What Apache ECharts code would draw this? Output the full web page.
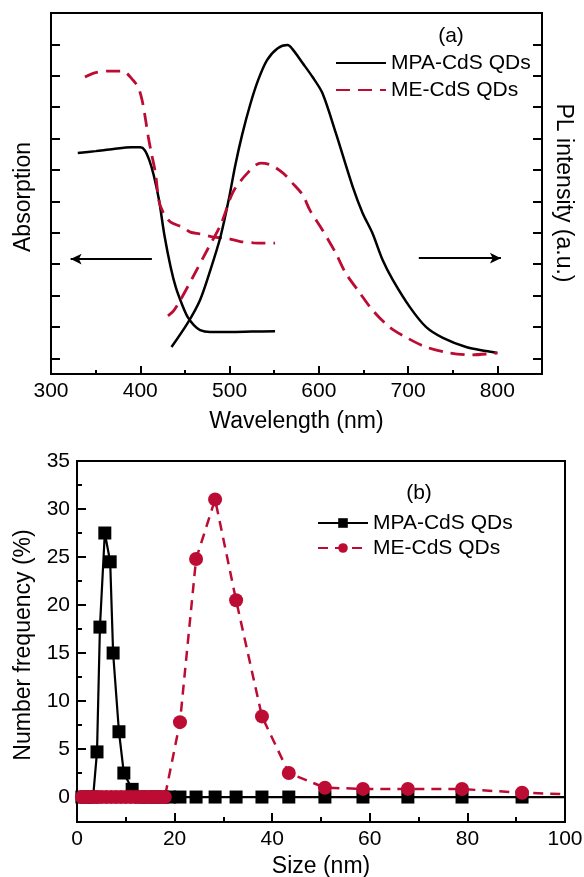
<!DOCTYPE html>
<html>
<head>
<meta charset="utf-8">
<script src="https://cdn.jsdelivr.net/npm/echarts@6/dist/echarts.min.js"></script>
<style>html,body{margin:0;padding:0;background:#fff}#c{width:584px;height:877px}</style>
</head>
<body>
<div id="c"></div>
<script>
// ---------- Panel (a): absorption & PL spectra (arbitrary units) ----------
const wavelengthLabels = [300, 400, 500, 600, 700, 800];
const wavelengthMajorTicks = [400, 500, 600, 700, 800];
const wavelengthMinorTicks = [350, 450, 550, 650, 750];
const intensityTicks = [0, 1, 2, 3, 4, 5, 6, 7, 8, 9, 10];

const absMPA = [[330,6.54],[350,6.60],[370,6.67],[390,6.72],[400,6.72],[405,6.63],[410,6.32],[415,5.84],[421,5.04],[427,3.93],[434,2.91],[440,2.24],[447,1.70],[453,1.32],[460,1.06],[467,0.90],[478,0.84],[500,0.84],[525,0.85],[551,0.86]];
const absME = [[338,8.96],[350,9.10],[366,9.15],[380,9.15],[392,8.86],[398,8.61],[402,8.23],[405.5,7.68],[409,7.05],[412,6.60],[417,5.90],[421,5.0],[426,4.63],[434,4.34],[447,4.18],[456,4.02],[467,3.96],[482,3.86],[497,3.82],[512,3.72],[527,3.68],[551,3.67]];
const plMPA = [[435,0.36],[453,1.12],[467,1.86],[478.5,2.81],[490,3.89],[499,5.04],[506.5,6.16],[514,7.11],[523,8.07],[532,8.86],[542,9.5],[554,9.88],[565,9.98],[570.5,9.85],[582,9.40],[593,8.96],[604,8.45],[619,7.18],[638,5.46],[649,4.63],[660,3.99],[671.5,3.13],[683,2.49],[702,1.63],[720,1.00],[739,0.65],[765,0.36],[787,0.23],[800,0.17]];
const plME = [[431,1.35],[437,1.5],[445,1.86],[459,2.59],[475,3.45],[490,4.25],[504,5.30],[520,5.90],[535,6.22],[546,6.16],[560,5.90],[570.5,5.58],[582,5.20],[590,4.72],[604,4.09],[619,3.35],[630,2.72],[646,2.08],[660,1.54],[679,1.00],[697,0.68],[720,0.36],[747,0.17],[772,0.11],[800,0.17]];
const leftArrow = [[413, 3.16], [322, 3.16]];
const rightArrow = [[712, 3.19], [804, 3.19]];

// ---------- Panel (b): size distributions ----------
const sizeLabels = [0, 20, 40, 60, 80, 100];
const sizeMajorTicks = [20, 40, 60, 80];
const sizeMinorTicks = [10, 30, 50, 70, 90];
const freqLabels = [0, 5, 10, 15, 20, 25, 30, 35];
const freqMinorTicks = [2.5, 7.5, 12.5, 17.5, 22.5, 27.5, 32.5];

const sizeMPA = [1, 2, 3.3, 4.1, 4.7, 5.7, 6.8, 7.4, 8.6, 9.6, 11.3, 13, 14.5, 16, 17.5, 19, 21.1, 24.4, 28.3, 32.6, 37.9, 43.4, 50.8, 58.6, 67.8, 78.9, 91.2, 100];
const freqMPA = [0, 0, 0, 4.7, 17.7, 27.5, 24.5, 15.0, 6.8, 2.5, 0.8, 0, 0, 0, 0, 0, 0, 0, 0, 0, 0, 0, 0, 0, 0, 0, 0, 0];
const sizeME = [1, 2, 3, 4, 5, 6, 7, 8, 9, 10, 11, 12, 13, 14, 15, 16, 17, 18, 21.1, 24.4, 28.3, 32.6, 37.9, 43.4, 50.8, 58.6, 67.8, 78.9, 91.2, 100];
const freqME = [0, 0, 0, 0, 0, 0, 0, 0, 0, 0, 0, 0, 0, 0, 0, 0, 0, 0, 7.8, 24.8, 31.0, 20.5, 8.4, 2.5, 0.97, 0.85, 0.85, 0.83, 0.45, 0.3];

const RED = '#BC0C33';
const FONT = 'Liberation Sans';

function pairs(xs, ys, lastNoSymbol) {
  return xs.map((x, i) => {
    const d = { value: [x, ys[i]] };
    if (lastNoSymbol && i === xs.length - 1) d.symbol = 'none';
    return d;
  });
}

const chart = echarts.init(document.getElementById('c'), null, { renderer: 'canvas' });

const axisLineStyle = { show: true, onZero: false, lineStyle: { color: '#000', width: 2 } };
const noLine = { show: false, onZero: false };
const tickLabel = { color: '#000', fontSize: 21, fontFamily: FONT, margin: 7 };

const option = {
  animation: false,
  backgroundColor: '#fff',
  textStyle: { fontFamily: FONT, color: '#000' },
  grid: [
    { left: 51, top: 13, right: 42, bottom: 503, show: true, borderColor: '#000', borderWidth: 2, outerBoundsMode: 'none', containLabel: false },
    { left: 77, top: 461, right: 19, bottom: 55, show: true, borderColor: '#000', borderWidth: 2, outerBoundsMode: 'none', containLabel: false }
  ],
  xAxis: [
    { type: 'value', gridIndex: 0, min: 300, max: 850, position: 'bottom',
      axisLine: axisLineStyle, splitLine: { show: false },
      axisTick: { inside: true, length: 8, lineStyle: { width: 2, color: '#000' }, customValues: wavelengthMajorTicks },
      axisLabel: Object.assign({ customValues: wavelengthLabels }, tickLabel),
      name: 'Wavelength (nm)', nameLocation: 'middle', nameGap: 36,
      nameTextStyle: { fontSize: 23, fontFamily: FONT, color: '#000' } },
    { type: 'value', gridIndex: 0, min: 300, max: 850, position: 'bottom',
      axisLine: noLine, splitLine: { show: false }, axisLabel: { show: false },
      axisTick: { inside: true, length: 4, lineStyle: { width: 2, color: '#000' }, customValues: wavelengthMinorTicks } },
    { type: 'value', gridIndex: 1, min: 0, max: 100, position: 'bottom',
      axisLine: axisLineStyle, splitLine: { show: false },
      axisTick: { inside: true, length: 9, lineStyle: { width: 2, color: '#000' }, customValues: sizeMajorTicks },
      axisLabel: Object.assign({ customValues: sizeLabels }, tickLabel),
      name: 'Size (nm)', nameLocation: 'middle', nameGap: 33,
      nameTextStyle: { fontSize: 23, fontFamily: FONT, color: '#000' } },
    { type: 'value', gridIndex: 1, min: 0, max: 100, position: 'bottom',
      axisLine: noLine, splitLine: { show: false }, axisLabel: { show: false },
      axisTick: { inside: true, length: 5, lineStyle: { width: 2, color: '#000' }, customValues: sizeMinorTicks } }
  ],
  yAxis: [
    { type: 'value', gridIndex: 0, min: -0.5, max: 11, position: 'left',
      axisLine: axisLineStyle, splitLine: { show: false }, axisLabel: { show: false },
      axisTick: { inside: true, length: 9, lineStyle: { width: 2, color: '#000' }, customValues: intensityTicks } },
    { type: 'value', gridIndex: 0, min: -0.5, max: 11, position: 'right',
      axisLine: axisLineStyle, splitLine: { show: false }, axisLabel: { show: false },
      axisTick: { inside: true, length: 9, lineStyle: { width: 2, color: '#000' }, customValues: intensityTicks } },
    { type: 'value', gridIndex: 1, min: -2.6, max: 35, position: 'left',
      axisLine: axisLineStyle, splitLine: { show: false },
      axisLabel: Object.assign({ customValues: freqLabels }, tickLabel),
      axisTick: { inside: true, length: 9, lineStyle: { width: 2, color: '#000' }, customValues: freqLabels } },
    { type: 'value', gridIndex: 1, min: -2.6, max: 35, position: 'left',
      axisLine: noLine, splitLine: { show: false }, axisLabel: { show: false },
      axisTick: { inside: true, length: 5, lineStyle: { width: 2, color: '#000' }, customValues: freqMinorTicks } }
  ],
  legend: [
    { orient: 'vertical', left: 335, top: 51, padding: 0, itemWidth: 50, itemHeight: 14, itemGap: 3,
      textStyle: { fontSize: 21, fontFamily: FONT, color: '#000', lineHeight: 24 },
      itemStyle: { opacity: 0 },
      data: [
        { name: 'MPA-CdS QDs', itemStyle: { opacity: 0 } },
        { name: 'ME-CdS QDs', itemStyle: { opacity: 0 } }
      ], selectedMode: false },
    { orient: 'vertical', left: 317, top: 511, padding: 0, itemWidth: 50, itemHeight: 12, itemGap: 1,
      textStyle: { fontSize: 21, fontFamily: FONT, color: '#000', lineHeight: 24 },
      data: ['MPA-CdS QDs ', 'ME-CdS QDs '], selectedMode: false }
  ],
  graphic: [
    { type: 'text', x: 451, y: 36, style: { text: '(a)', fontSize: 21, fontFamily: FONT, fill: '#000', align: 'center', verticalAlign: 'middle' } },
    { type: 'text', x: 419, y: 493, style: { text: '(b)', fontSize: 21, fontFamily: FONT, fill: '#000', align: 'center', verticalAlign: 'middle' } },
    { type: 'text', x: 24, y: 197, rotation: Math.PI / 2, style: { text: 'Absorption', fontSize: 23, fontFamily: FONT, fill: '#000', align: 'center', verticalAlign: 'middle' } },
    { type: 'text', x: 563, y: 193, rotation: -Math.PI / 2, style: { text: 'PL intensity (a.u.)', fontSize: 23, fontFamily: FONT, fill: '#000', align: 'center', verticalAlign: 'middle' } },
    { type: 'text', x: 24, y: 645, rotation: Math.PI / 2, style: { text: 'Number frequency (%)', fontSize: 23, fontFamily: FONT, fill: '#000', align: 'center', verticalAlign: 'middle' } }
  ],
  series: [
    { name: 'MPA-CdS QDs', type: 'line', xAxisIndex: 0, yAxisIndex: 0, data: absMPA, symbol: 'none', smooth: 0.3,
      lineStyle: { color: '#000', width: 2.5 }, itemStyle: { color: '#000' },
      markLine: { silent: true, symbol: ['none', 'arrow'], symbolSize: [8, 11], label: { show: false },
        lineStyle: { color: '#000', width: 2, type: 'solid' },
        data: [[{ coord: leftArrow[0] }, { coord: leftArrow[1] }]] } },
    { name: 'ME-CdS QDs', type: 'line', xAxisIndex: 0, yAxisIndex: 0, data: absME, symbol: 'none', smooth: 0.3,
      lineStyle: { color: RED, width: 2.8, type: [14, 8] }, itemStyle: { color: RED } },
    { name: 'MPA-CdS QDs', type: 'line', xAxisIndex: 0, yAxisIndex: 1, data: plMPA, symbol: 'none', smooth: 0.3,
      lineStyle: { color: '#000', width: 2.5 }, itemStyle: { color: '#000' },
      markLine: { silent: true, symbol: ['none', 'arrow'], symbolSize: [8, 11], label: { show: false },
        lineStyle: { color: '#000', width: 2, type: 'solid' },
        data: [[{ coord: rightArrow[0] }, { coord: rightArrow[1] }]] } },
    { name: 'ME-CdS QDs', type: 'line', xAxisIndex: 0, yAxisIndex: 1, data: plME, symbol: 'none', smooth: 0.3,
      lineStyle: { color: RED, width: 2.8, type: [14, 8] }, itemStyle: { color: RED } },
    { name: 'MPA-CdS QDs ', type: 'line', xAxisIndex: 2, yAxisIndex: 2, data: pairs(sizeMPA, freqMPA, true),
      symbol: 'rect', symbolSize: 13,
      lineStyle: { color: '#000', width: 2.2 }, itemStyle: { color: '#000' } },
    { name: 'ME-CdS QDs ', type: 'line', xAxisIndex: 2, yAxisIndex: 2, data: pairs(sizeME, freqME, true),
      symbol: 'circle', symbolSize: 14,
      lineStyle: { color: RED, width: 2.5, type: [10, 7] }, itemStyle: { color: RED } }
  ]
};
chart.setOption(option);
</script>
</body>
</html>
